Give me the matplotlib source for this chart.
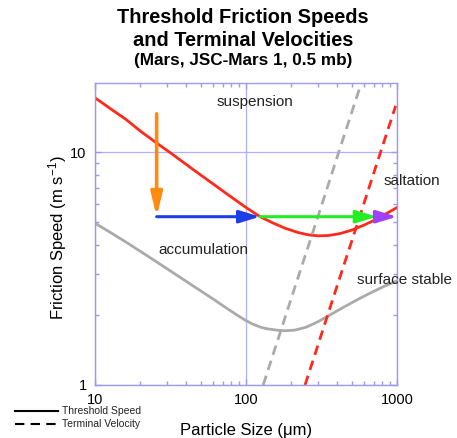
import matplotlib
matplotlib.use("Agg")
import matplotlib.pyplot as plt
from matplotlib.lines import Line2D
from matplotlib.ticker import LogLocator, NullFormatter, FixedLocator, FixedFormatter

plt.rcParams['font.family'] = ['Liberation Sans', 'DejaVu Sans']
plt.rcParams['mathtext.fontset'] = 'custom'
plt.rcParams['mathtext.rm'] = 'Liberation Sans'
plt.rcParams['mathtext.it'] = 'Liberation Sans'
plt.rcParams['mathtext.default'] = 'regular'

# ---- data ----
mars_thresh_d = [10, 13, 16, 20, 25, 32, 40, 50, 62, 75, 90, 100, 124, 150, 180,
                 220, 260, 300, 350, 420, 500, 600, 700, 800, 900, 1000]
mars_thresh_u = [17.1, 15.17, 13.83, 12.3, 11.06, 9.87, 8.87, 7.98, 7.22, 6.6, 6.07, 5.78,
                 5.28, 4.97, 4.72, 4.52, 4.41, 4.37, 4.38, 4.47, 4.62, 4.85, 5.08, 5.33,
                 5.56, 5.78]

earth_thresh_d = [10, 13, 17, 22, 28, 36, 46, 60, 75, 90, 100, 110, 125, 140, 160, 180,
                  210, 250, 300, 370, 450, 550, 680, 830, 1000]
earth_thresh_u = [4.95, 4.47, 4.01, 3.60, 3.25, 2.92, 2.63, 2.35, 2.13, 1.97, 1.89, 1.83,
                  1.77, 1.74, 1.72, 1.71, 1.72, 1.77, 1.87, 2.02, 2.17, 2.33, 2.50, 2.66,
                  2.80]

earth_term_d = [130, 200, 300, 400, 583]
earth_term_v = [1.0, 2.37, 5.3, 9.45, 20.0]

mars_term_d = [246, 400, 530, 700, 980]
mars_term_v = [1.0, 2.65, 4.63, 8.1, 15.8]

arrow_x = [25.6, 124, 735, 1000]      # start of chain, then arrow tips
arrow_top = 14.6                       # start of the vertical (orange) arrow
arrow_level = 5.28                     # horizontal arrow level
arrow_colors = ['#1f3fe6', '#22ee22', '#a040ff']

xticks = [10, 100, 1000]
xticklabels = ['10', '100', '1000']
yticks = [1, 10]
yticklabels = ['1', '10']

# ---- figure ----
fig = plt.figure(figsize=(4.57, 4.38), dpi=100)
ax = fig.add_axes([95/457, 1-385/438, 302/457, 302/438])
ax.set_xscale('log')
ax.set_yscale('log')
ax.set_xlim(10, 1000)
ax.set_ylim(1, 19.8)

red = '#ff2a1a'
gray = '#aaaaaa'
ax.plot(earth_thresh_d, earth_thresh_u, color=gray, lw=2.0)
ax.plot(mars_thresh_d, mars_thresh_u, color=red, lw=2.0)
ax.plot(earth_term_d, earth_term_v, color=gray, lw=2.0, dashes=(3.5, 2.2))
ax.plot(mars_term_d, mars_term_v, color=red, lw=2.0, dashes=(3.5, 2.2))

# arrows
ax.annotate('', xy=(arrow_x[0], arrow_level), xytext=(arrow_x[0], arrow_top),
            arrowprops=dict(arrowstyle='-|>,head_length=1.4,head_width=0.34',
                            lw=2.6, color='#ff8a10', shrinkA=0, shrinkB=0,
                            mutation_scale=10))
for i, c in enumerate(arrow_colors):
    ax.annotate('', xy=(arrow_x[i+1], arrow_level), xytext=(arrow_x[i], arrow_level),
                arrowprops=dict(arrowstyle='-|>,head_length=1.25,head_width=0.38',
                                lw=2.2, color=c, shrinkA=0, shrinkB=0,
                                mutation_scale=10), zorder=5)

# axes style
axcol = '#9a9af0'
for s in ax.spines.values():
    s.set_color(axcol)
    s.set_linewidth(1.0)
ax.xaxis.set_major_locator(FixedLocator(xticks))
ax.xaxis.set_major_formatter(FixedFormatter(xticklabels))
ax.yaxis.set_major_locator(FixedLocator(yticks))
ax.yaxis.set_major_formatter(FixedFormatter(yticklabels))
ax.xaxis.set_minor_locator(LogLocator(base=10, subs=range(2, 10)))
ax.yaxis.set_minor_locator(LogLocator(base=10, subs=range(2, 10)))
ax.xaxis.set_minor_formatter(NullFormatter())
ax.yaxis.set_minor_formatter(NullFormatter())
ax.tick_params(which='both', direction='in', color=axcol, top=True, right=True,
               labelsize=10.5, labelcolor='black')
ax.tick_params(which='major', length=4, width=1, pad=6)
ax.tick_params(which='minor', length=3, width=1)
ax.grid(True, which='major', color='#b0b0ff', lw=0.9)

# region labels
ax.text(0.53, 0.937, 'suspension', transform=ax.transAxes, fontsize=11,
        ha='center', va='center', color='#222222')
ax.text(0.954, 0.675, 'saltation', transform=ax.transAxes, fontsize=11,
        ha='left', va='center', color='#222222', clip_on=False)
ax.text(0.209, 0.447, 'accumulation', transform=ax.transAxes, fontsize=11,
        ha='left', va='center', color='#222222')
ax.text(0.868, 0.348, 'surface stable', transform=ax.transAxes, fontsize=11,
        ha='left', va='center', color='#222222', clip_on=False)

# titles
fig.text(243/457, 1-17.5/438, 'Threshold Friction Speeds', fontsize=14.4,
         fontweight='bold', ha='center', va='center')
fig.text(243/457, 1-41/438, 'and Terminal Velocities', fontsize=14.4,
         fontweight='bold', ha='center', va='center')
fig.text(243/457, 1-61/438, '(Mars, JSC-Mars 1, 0.5 mb)', fontsize=12.3,
         fontweight='bold', ha='center', va='center')

# axis labels
fig.text(246/457, 1-431/438, 'Particle Size (μm)', fontsize=12,
         ha='center', va='center')
fig.text(58/457, 1-238/438, 'Friction Speed (m s$^{-1}$)', fontsize=12,
         rotation=90, ha='center', va='center')

# legend (bottom-left)
fig.add_artist(Line2D([15/457, 58/457], [1-411/438, 1-411/438], color='black', lw=1.5))
fig.add_artist(Line2D([15/457, 58/457], [1-424/438, 1-424/438], color='black', lw=1.5,
                      dashes=(4.5, 3)))
fig.text(62/457, 1-411/438, 'Threshold Speed', fontsize=7.5, ha='left', va='center',
         color='#222222')
fig.text(62/457, 1-424/438, 'Terminal Velocity', fontsize=7.5, ha='left', va='center',
         color='#222222')

fig.savefig('out.png', dpi=100)
